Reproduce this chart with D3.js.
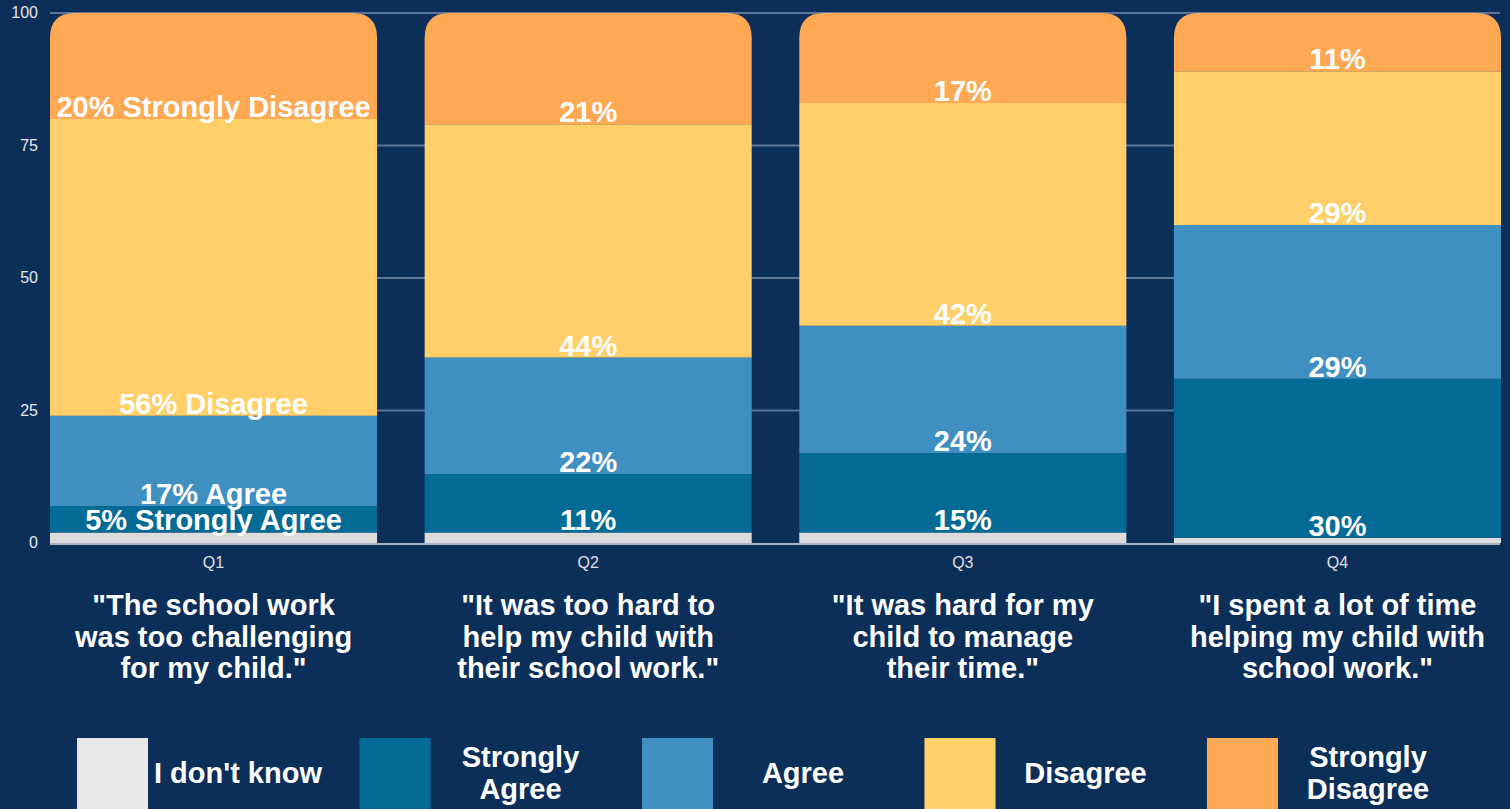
<!DOCTYPE html>
<html>
<head>
<meta charset="utf-8">
<script src="https://cdn.jsdelivr.net/npm/d3@7"></script>
<style>
body{margin:0;background:#0c2f5a;}
svg{display:block;font-family:"Liberation Sans",Arial,sans-serif;}
</style>
</head>
<body>
<svg id="chart"></svg>
<script>
// data
const categories = ['Q1', 'Q2', 'Q3', 'Q4'];
const questions = [
	['"The school work', 'was too challenging', 'for my child."'],
	['"It was too hard to', 'help my child with', 'their school work."'],
	['"It was hard for my', 'child to manage', 'their time."'],
	['"I spent a lot of time', 'helping my child with', 'school work."']
];
const seriesNames = ["I don't know", 'Strongly Agree', 'Agree', 'Disagree', 'Strongly Disagree'];
const dontKnow = [2, 2, 2, 1];
const stronglyAgree = [5, 11, 15, 30];
const agreeVals = [17, 22, 24, 29];
const disagreeVals = [56, 44, 42, 29];
const stronglyDisagree = [20, 21, 17, 11];
const yTicks = [0, 25, 50, 75, 100];
const legendLines = [["I don't know"], ['Strongly', 'Agree'], ['Agree'], ['Disagree'], ['Strongly', 'Disagree']];
const colors = ['#dcdcdc', '#046a96', '#3f8fc1', '#ffcf6a', '#ffa954'];

const width = 1510, height = 809;
const margin = {top: 13, left: 50, right: 9},
	plotBottom = 543;

const svg = d3.select('#chart').attr('width', width).attr('height', height);
svg.append('rect').attr('width', width).attr('height', height).attr('fill', '#0c2f5a');

const table = categories.map((c, i) => ({
	cat: c,
	[seriesNames[0]]: dontKnow[i],
	[seriesNames[1]]: stronglyAgree[i],
	[seriesNames[2]]: agreeVals[i],
	[seriesNames[3]]: disagreeVals[i],
	[seriesNames[4]]: stronglyDisagree[i]
}));
const stacked = d3.stack().keys(seriesNames)(table);

const x = d3.scaleBand()
	.domain(categories)
	.range([margin.left, width - margin.right])
	.paddingInner(0.127)
	.paddingOuter(0);
const y = d3.scaleLinear().domain([0, 100]).range([plotBottom, margin.top]);
const color = d3.scaleOrdinal().domain(seriesNames).range(colors);

//grid lines
svg.append('g')
	.selectAll('line')
	.data(yTicks.filter(t => t > 0))
	.enter().append('line')
	.attr('x1', margin.left).attr('x2', width - 10)
	.attr('y1', d => y(d)).attr('y2', d => y(d))
	.attr('stroke', '#5b7699').attr('stroke-width', 2);
svg.append('line')
	.attr('x1', margin.left).attr('x2', width - 10)
	.attr('y1', y(0) + 1).attr('y2', y(0) + 1)
	.attr('stroke', '#aab4c2').attr('stroke-width', 2);

// y labels
svg.append('g')
	.selectAll('text')
	.data(yTicks)
	.enter().append('text')
	.attr('x', 38)
	.attr('y', d => y(d) + 5)
	.attr('text-anchor', 'end')
	.attr('font-size', 16)
	.attr('fill', '#e8e8e8')
	.text(d => d);

// rounded top for last segment
const topRounded = (x0, y0, w, h, r) =>
	`M${x0},${y0 + h}V${y0 + r}Q${x0},${y0} ${x0 + r},${y0}H${x0 + w - r}Q${x0 + w},${y0} ${x0 + w},${y0 + r}V${y0 + h}Z`;

//bars
const layer = svg.append('g')
	.selectAll('g')
	.data(stacked)
	.enter().append('g')
	.attr('fill', d => color(d.key));

layer.selectAll('path')
	.data(d => d.map(p => ({key: d.key, last: d.index === seriesNames.length - 1, p})))
	.enter().append('path')
	.attr('d', d => {
		const x0 = x(d.p.data.cat), w = x.bandwidth();
		const y0 = y(d.p[1]), h = y(d.p[0]) - y(d.p[1]);
		if (d.last) return topRounded(x0, y0, w, h, 25);
		return `M${x0},${y0}h${w}v${h}h${-w}Z`;
	});

// value labels
stacked.slice(1).forEach(s => {
	svg.append('g')
		.selectAll('text')
		.data(s)
		.enter().append('text')
		.attr('x', d => x(d.data.cat) + x.bandwidth() / 2)
		.attr('y', d => y(d[0]) - 2)
		.attr('text-anchor', 'middle')
		.attr('font-size', 29)
		.attr('font-weight', 'bold')
		.attr('fill', '#fff')
		.text((d, i) => i === 0 ? `${d[1] - d[0]}% ${s.key}` : `${d[1] - d[0]}%`);
});

// category labels
svg.append('g')
	.selectAll('text')
	.data(categories)
	.enter().append('text')
	.attr('x', d => x(d) + x.bandwidth() / 2)
	.attr('y', 568)
	.attr('text-anchor', 'middle')
	.attr('font-size', 16)
	.attr('fill', '#e0e0e0')
	.text(d => d);

// question text
const qText = svg.append('g')
	.selectAll('text')
	.data(categories)
	.enter().append('text')
	.attr('text-anchor', 'middle')
	.attr('font-size', 29)
	.attr('font-weight', 'bold')
	.attr('fill', '#fff');
qText.each(function(d, i) {
	d3.select(this).selectAll('tspan')
		.data(questions[i])
		.enter().append('tspan')
		.attr('x', x(d) + x.bandwidth() / 2)
		.attr('y', (l, j) => 615 + j * 31.5)
		.text(l => l);
});

//legend
const lx = d3.scaleLinear().domain([0, seriesNames.length - 1]).range([77, 1207]);
const legend = svg.append('g')
	.selectAll('g')
	.data(seriesNames)
	.enter().append('g')
	.attr('transform', (d, i) => `translate(${lx(i)},738)`);

legend.append('rect')
	.attr('width', 71)
	.attr('height', 72)
	.attr('fill', (d, i) => i === 0 ? '#e8e8e8' : color(d));

legend.append('text')
	.attr('text-anchor', 'middle')
	.attr('font-size', 29)
	.attr('font-weight', 'bold')
	.attr('fill', '#fff')
	.each(function(d, i) {
		const lines = legendLines[i];
		d3.select(this).selectAll('tspan')
			.data(lines)
			.enter().append('tspan')
			.attr('x', 71 + 90)
			.attr('y', (l, j) => 45 - (lines.length - 1) * 16 + j * 32)
			.text(l => l);
	});
</script>
</body>
</html>
